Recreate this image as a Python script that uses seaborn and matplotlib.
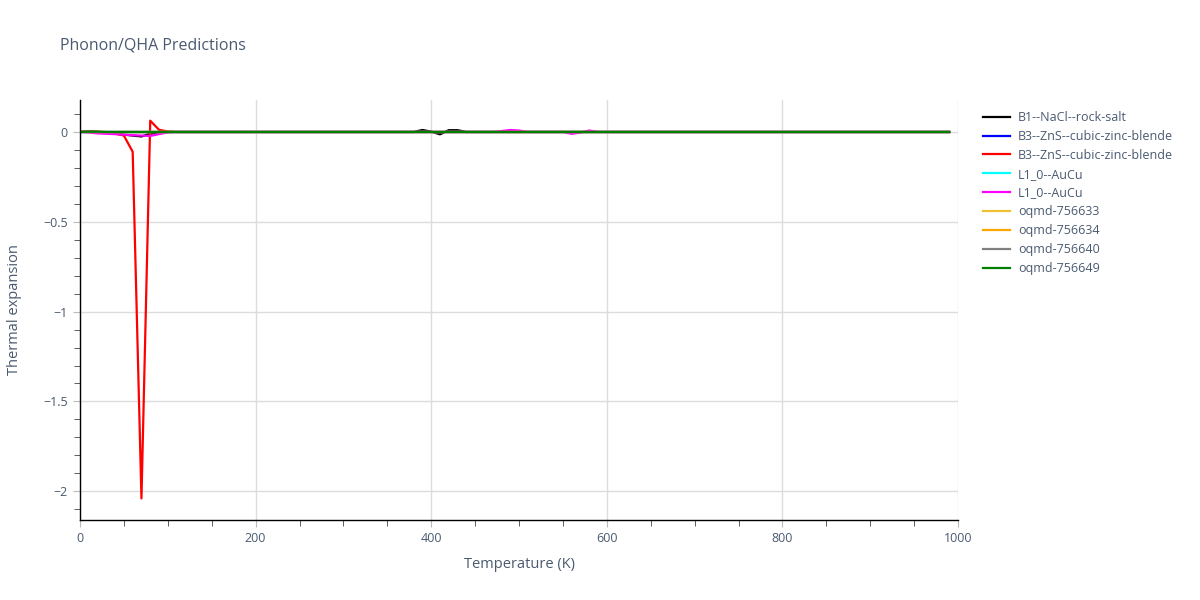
import numpy as np
import pandas as pd
import matplotlib
matplotlib.use("Agg")
import matplotlib.pyplot as plt
from matplotlib.ticker import MultipleLocator
import seaborn as sns

# temperature grid (K)
temps = np.arange(0, 1000, 10)

labels = ["B1--NaCl--rock-salt", "B3--ZnS--cubic-zinc-blende", "B3--ZnS--cubic-zinc-blende",
          "L1_0--AuCu", "L1_0--AuCu", "oqmd-756633", "oqmd-756634", "oqmd-756640", "oqmd-756649"]
colors = ["black", "blue", "red", "cyan", "magenta", "#f0c030", "orange", "gray", "green"]

# non-zero readings (T, value); everything else sits on 0
b1_points = [(10, 0.002), (30, -0.005), (40, -0.01), (50, -0.015), (60, -0.02), (70, -0.025),
             (80, -0.01), (90, -0.003),
             (390, 0.011), (400, 0.002), (410, -0.013), (420, 0.01), (430, 0.01)]
b3_blue_points = []
b3_red_points = [(0, 0.002), (10, 0.003), (20, 0.002), (30, -0.003), (40, -0.008), (50, -0.02),
                 (60, -0.11), (70, -2.04), (80, 0.063), (90, 0.012), (100, 0.003)]
l10_cyan_points = []
l10_mag_points = [(10, -0.003), (20, -0.008), (30, -0.01), (40, -0.012), (50, -0.015), (60, -0.018),
                  (70, -0.02), (80, -0.022), (90, -0.012), (100, -0.002),
                  (480, 0.005), (490, 0.011), (500, 0.008),
                  (560, -0.01), (570, -0.003), (580, 0.008)]
oqmd633_points = []
oqmd634_points = []
oqmd640_points = []
oqmd649_points = [(10, 0.002), (20, 0.002)]

all_points = [b1_points, b3_blue_points, b3_red_points, l10_cyan_points, l10_mag_points,
              oqmd633_points, oqmd634_points, oqmd640_points, oqmd649_points]

text_color = "#4a5a70"
plt.rcParams["font.family"] = ["Open Sans", "DejaVu Sans"]

fig = plt.figure(figsize=(12, 6), dpi=100)
ax = fig.add_axes([80 / 1200, 80 / 600, 878 / 1200, 420 / 600])

for lab, col, pts in zip(labels, colors, all_points):
    vals = np.zeros(len(temps))
    for t, v in pts:
        vals[temps == t] = v
    df = pd.DataFrame({"T": temps, "val": vals})
    sns.lineplot(data=df, x="T", y="val", color=col, linewidth=1.6, label=lab, ax=ax)

ax.set_xlim(0, 1000)
ax.set_ylim(-2.16, 0.178)
ax.xaxis.set_major_locator(MultipleLocator(200))
ax.xaxis.set_minor_locator(MultipleLocator(50))
ax.yaxis.set_minor_locator(MultipleLocator(0.1))
ax.set_yticks([0, -0.5, -1, -1.5, -2])
ax.set_yticklabels(["0", "\u22120.5", "\u22121", "\u22121.5", "\u22122"])
ax.grid(True, which="major", color="#dcdcdc", linewidth=1)
ax.set_axisbelow(True)
for s in ["top", "right"]:
    ax.spines[s].set_visible(False)
for s in ["left", "bottom"]:
    ax.spines[s].set_color("black")
    ax.spines[s].set_linewidth(1)
ax.tick_params(which="major", length=5, color="#bbbbbb", labelcolor=text_color, labelsize=9, pad=4)
ax.tick_params(which="minor", length=4, color="#444444")

ax.set_xlabel("Temperature (K)", color=text_color, fontsize=10.5, labelpad=8)
ax.set_ylabel("Thermal expansion", color=text_color, fontsize=10.5, labelpad=15)

ax.get_legend().remove()
handles, labs = ax.get_legend_handles_labels()
fig.legend(handles, labs, loc="upper left", bbox_to_anchor=(978 / 1200, 1 - 106 / 600),
           frameon=False, fontsize=9, labelcolor=text_color, handlelength=2.2,
           handletextpad=0.6, labelspacing=0.47, borderaxespad=0)

fig.text(60 / 1200, 1 - 45 / 600, "Phonon/QHA Predictions", color=text_color, fontsize=11.5,
         va="center", ha="left")

fig.savefig("out.png", dpi=100)
